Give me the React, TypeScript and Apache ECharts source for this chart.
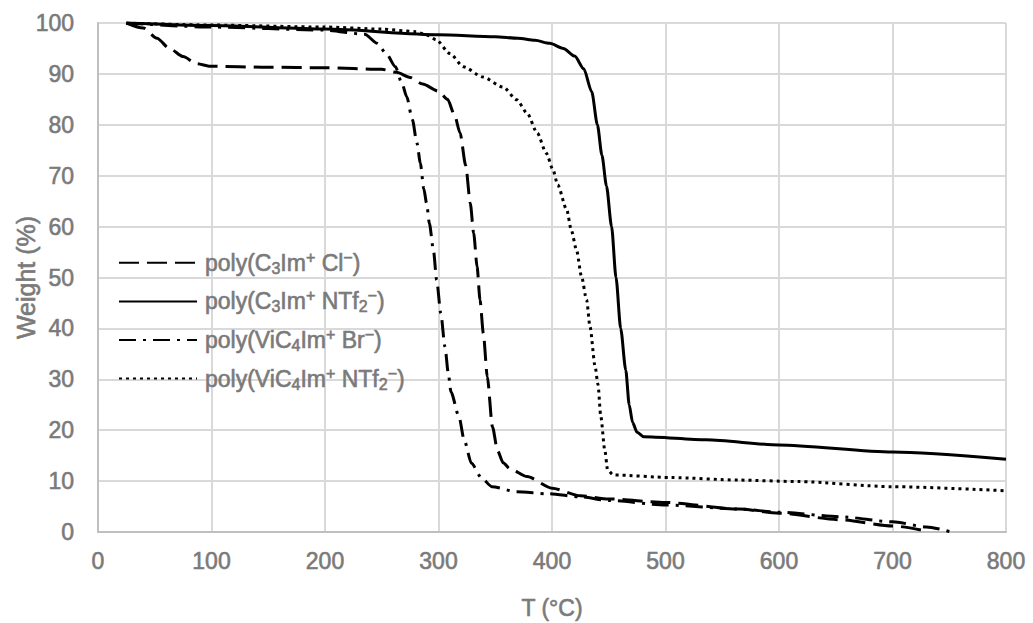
import React, { useEffect, useRef } from "react";
import * as echarts from "echarts";

// Temperature (°C) / weight (%) pairs
const clData: [number, number][] = [
  [25, 100], [40, 99], [52, 97], [63, 95], [75, 93.4], [87, 92], [99, 91.5], [150, 91.3],
  [200, 91.2], [250, 90.9], [263, 90.3], [275, 89.3], [286, 88], [300, 86.6], [308, 85],
  [314, 82], [319, 78.4], [324, 72], [328, 64.6], [331, 58.7], [334, 52.1], [336.6, 45.6],
  [339.5, 39], [343, 30.5], [347.5, 20.7], [352, 16], [357, 13.6], [363, 12.4], [378, 10.9],
  [400, 8.6], [425, 7.1], [450, 6.5], [500, 5.8], [565, 4.5], [600, 3.7], [654, 2.4],
  [700, 1.2], [730, 0.2],
];

const c3Ntf2Data: [number, number][] = [
  [25, 100], [100, 99.5], [200, 98.8], [300, 97.7], [350, 97.3], [370, 97], [385, 96.6],
  [398, 96], [410, 95], [420, 93.5], [428, 91], [435, 86.5], [440, 80], [444, 74], [448, 68],
  [452.5, 60], [456.4, 50], [460.5, 40], [465, 31.8], [468, 25], [471, 21.5], [475, 19.6],
  [481, 18.7], [536, 18.1], [600, 17.1], [700, 15.7], [800, 14.3],
];

const brData: [number, number][] = [
  [25, 100], [100, 99.2], [200, 98.6], [235, 97.8], [246, 96], [254, 94], [262, 91.4],
  [268, 88], [272, 85.5], [277, 81], [281, 76.4], [284, 72.5], [287, 67.5], [289.5, 64.6],
  [292, 60.6], [295.5, 55.4], [298.4, 49.5], [302, 43], [305.7, 36.4], [308.6, 31.2],
  [311, 27.5], [318, 22.7], [322.7, 18], [329, 13.5], [338, 10.6], [347, 8.9], [369, 7.9],
  [397, 7.5], [425, 6.9], [450, 6.2], [500, 5.3], [565, 4.5], [600, 3.9], [654, 3.0],
  [700, 2.0], [730, 1.0], [752, 0],
];

const vNtf2Data: [number, number][] = [
  [25, 100], [100, 99.6], [200, 99.2], [250, 98.8], [280, 98.3], [290, 97.6], [298, 96.7],
  [310, 94], [322, 91.4], [339, 89.4], [357, 87.4], [369, 84.9], [378, 82.3], [387, 78.4],
  [395, 74.4], [401, 71.1], [405, 68.2], [413, 63.3], [417, 59.3], [421.6, 55.4], [426, 50.2],
  [430.5, 45.6], [433.5, 40.3], [438, 32.5], [440.5, 29], [443, 22.7], [446.5, 16.1],
  [449, 12.2], [454, 11.2], [505, 10.7], [565, 10.2], [617, 9.9], [700, 8.9], [800, 8.1],
];

const seriesNames = [
  "poly(C3Im+ Cl-)",
  "poly(C3Im+ NTf2-)",
  "poly(ViC4Im+ Br-)",
  "poly(ViC4Im+ NTf2-)",
];
const legendRich: Record<string, string> = {
  "poly(C3Im+ Cl-)": "poly(C{sub|3}Im{sup|+} Cl{sup|−})",
  "poly(C3Im+ NTf2-)": "poly(C{sub|3}Im{sup|+} NTf{sub|2}{sup|−})",
  "poly(ViC4Im+ Br-)": "poly(ViC{sub|4}Im{sup|+} Br{sup|−})",
  "poly(ViC4Im+ NTf2-)": "poly(ViC{sub|4}Im{sup|+} NTf{sub|2}{sup|−})",
};

const xTicks = { min: 0, max: 800, interval: 100 };
const yTicks = { min: 0, max: 100, interval: 10 };

const FONT = "'Liberation Sans', Arial, sans-serif";
const GRAY = "#7a7a7a";
const heavy = { textBorderColor: GRAY, textBorderWidth: 0.6 };

export default function App() {
  const ref = useRef<HTMLDivElement>(null);
  useEffect(() => {
    if (!ref.current) return;
    const chart = echarts.init(ref.current, undefined, { renderer: "svg" });
    const lineTypes: any[] = [[20, 8], "solid", [17, 7, 3, 7], [3, 4]];
    const datas = [clData, c3Ntf2Data, brData, vNtf2Data];
    chart.setOption({
      animation: false,
      backgroundColor: "#ffffff",
      grid: { left: 98, right: 27, top: 23, bottom: 91, containLabel: false, outerBoundsMode: "none" },
      legend: {
        orient: "vertical",
        left: 113,
        top: 244,
        itemWidth: 78,
        itemHeight: 12,
        itemGap: 11,
        itemStyle: { opacity: 0 },
        data: seriesNames,
        formatter: (name: string) => legendRich[name] || name,
        textStyle: {
          color: GRAY,
          fontFamily: FONT,
          fontSize: 23,
          lineHeight: 27,
          padding: [0, 0, 0, 3],
          ...heavy,
          rich: {
            sub: { fontSize: 16, color: GRAY, fontFamily: FONT, lineHeight: 17, verticalAlign: "bottom", ...heavy },
            sup: { fontSize: 16, color: GRAY, fontFamily: FONT, lineHeight: 15, verticalAlign: "top", ...heavy },
          },
        },
      },
      xAxis: {
        type: "value",
        min: xTicks.min,
        max: xTicks.max,
        interval: xTicks.interval,
        name: "T (°C)",
        nameLocation: "middle",
        nameGap: 64,
        nameMoveOverlap: false,
        nameTextStyle: { color: GRAY, fontFamily: FONT, fontSize: 23, ...heavy },
        axisLine: { show: true, lineStyle: { color: "#bfbfbf", width: 2 } },
        axisTick: { show: false },
        axisLabel: { color: GRAY, fontFamily: FONT, fontSize: 23, margin: 17, ...heavy },
        splitLine: { show: true, lineStyle: { color: "#d9d9d9", width: 2 } },
      },
      yAxis: {
        type: "value",
        min: yTicks.min,
        max: yTicks.max,
        interval: yTicks.interval,
        name: "Weight (%)",
        nameLocation: "middle",
        nameGap: 60,
        nameMoveOverlap: false,
        nameRotate: 90,
        nameTextStyle: { color: GRAY, fontFamily: FONT, fontSize: 25, ...heavy },
        axisLine: { show: true, lineStyle: { color: "#bfbfbf", width: 2 } },
        axisTick: { show: false },
        axisLabel: { color: GRAY, fontFamily: FONT, fontSize: 23, margin: 24, ...heavy },
        splitLine: { show: true, lineStyle: { color: "#d9d9d9", width: 2 } },
      },
      series: seriesNames.map((name, i) => ({
        name,
        type: "line",
        data: datas[i],
        showSymbol: false,
        symbol: "none",
        smooth: 0.25,
        smoothMonotone: "x",
        clip: true,
        lineStyle: { color: "#000000", width: 3, type: lineTypes[i] },
        itemStyle: { color: "#000000" },
      })),
    });
    return () => chart.dispose();
  }, []);
  return (
    <div
      ref={ref}
      style={{ position: "fixed", left: 0, top: 0, width: 1033, height: 623, background: "#fff" }}
    />
  );
}
